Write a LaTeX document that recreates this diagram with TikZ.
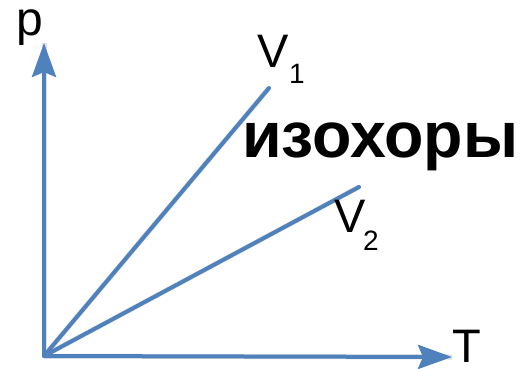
\documentclass[tikz,border=0pt]{standalone}
\usepackage{fontspec}
\setmainfont{Liberation Sans}
\usetikzlibrary{arrows.meta}
\definecolor{axisblue}{HTML}{4F81BD}
\begin{document}
\begin{tikzpicture}[x=1pt,y=-1pt,
  axisline/.style={draw=axisblue,line width=4pt},
  axisarrow/.style={axisline,-{Stealth[length=34pt,width=24pt,inset=5pt]}},
  shadowline/.style={draw=black!12,line width=5pt},
  lbl/.style={inner sep=0pt,anchor=base west,text=black}]
\useasboundingbox[fill=white] (0,0) rectangle (522,368);
\coordinate (O) at (44,356);
\coordinate (P) at (44,43);
\coordinate (T) at (452,357);
\coordinate (E1) at (269,88);
\coordinate (E2) at (359,187);
% soft shadows
\begin{scope}[shift={(2,2)}]
\draw[shadowline] (O) -- (P);
\draw[shadowline] (O) -- (T);
\draw[shadowline] (O) -- (E1);
\draw[shadowline] (O) -- (E2);
\end{scope}
\draw[axisarrow] (O) -- (P);
\draw[axisarrow] (O) -- (T);
\draw[axisline,line cap=round] (O) -- (E1);
\draw[axisline,line cap=round] (O) -- (E2);
\node[lbl] (lp) at (16,35) {\fontsize{48}{48}\selectfont p};
\node[lbl] (lT) at (452,362) {\fontsize{47}{47}\selectfont T};
\node[lbl] (lV1) at (257,67) {\fontsize{47}{47}\selectfont V};
\node[lbl] (lV1s) at (289,83) {\fontsize{28}{28}\selectfont 1};
\node[lbl] (lV2) at (334,232) {\fontsize{47}{47}\selectfont V};
\node[lbl] (lV2s) at (363,250) {\fontsize{28}{28}\selectfont 2};
\node[lbl] (iso) at (242,157) {\fontsize{64.5}{64.5}\selectfont\bfseries изохоры};
\end{tikzpicture}
\end{document}
